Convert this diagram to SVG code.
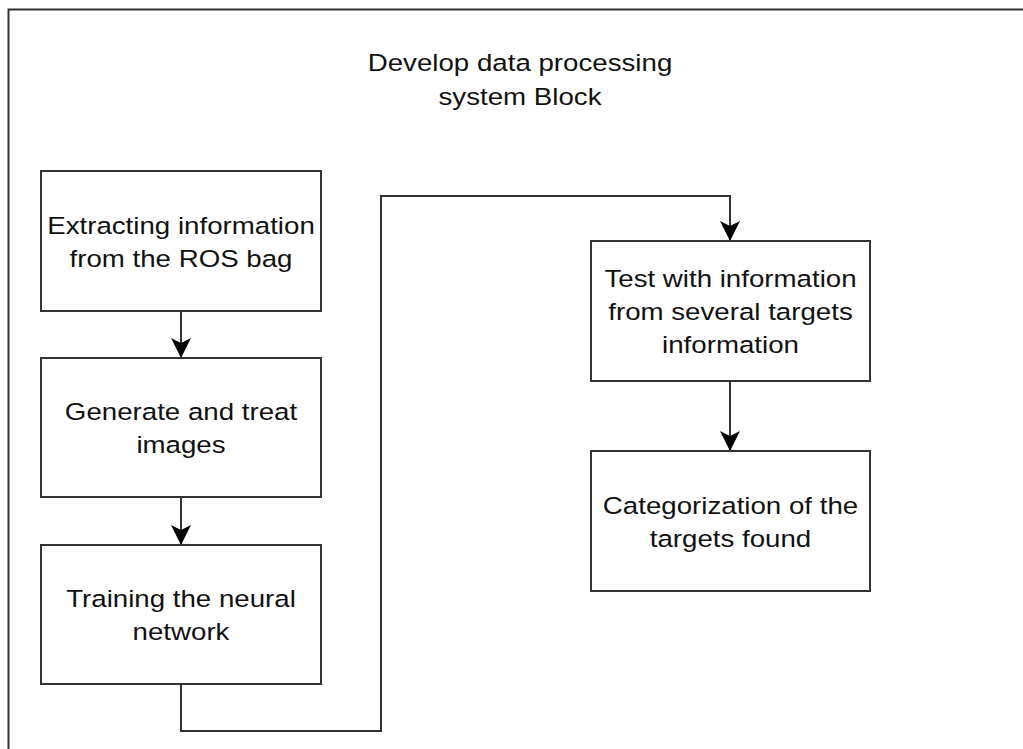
<svg xmlns="http://www.w3.org/2000/svg" width="1023" height="749" viewBox="0 0 1023 749">
  <defs>
    <style>
      .frame { fill: #ffffff; stroke: #333333; stroke-width: 2; }
      .box { fill: #ffffff; stroke: #333333; stroke-width: 2; }
      .edge { fill: none; stroke: #333333; stroke-width: 2; }
      .lbl { font-family: "Liberation Sans", Arial, sans-serif; font-size: 24.5px; fill: #111111; text-anchor: middle; }
    </style>
    <marker id="arrow" viewBox="0 0 20 20" refX="20" refY="10" markerWidth="20" markerHeight="20" markerUnits="userSpaceOnUse" orient="auto">
      <path d="M0,0 L20,10 L0,20 L5,10 Z" fill="#000000"/>
    </marker>
  </defs>

  <rect width="1023" height="749" fill="#ffffff"/>

  <!-- outer container -->
  <g id="container">
    <rect class="frame" x="8.5" y="9.5" width="1030" height="760"/>
    <g transform="translate(520,0) scale(1.13,1)">
      <text class="lbl" x="0" y="71.5">Develop data processing</text>
      <text class="lbl" x="0" y="105">system Block</text>
    </g>
  </g>

  <!-- connectors -->
  <g id="connectors">
    <path class="edge" d="M181,311 L181,358" marker-end="url(#arrow)"/>
    <path class="edge" d="M181,497 L181,545" marker-end="url(#arrow)"/>
    <path class="edge" d="M181,684 L181,731 L381,731 L381,196 L730,196 L730,241" marker-end="url(#arrow)"/>
    <path class="edge" d="M730,381 L730,451" marker-end="url(#arrow)"/>
  </g>

  <g id="extract">
    <rect class="box" x="41" y="171" width="280" height="140"/>
    <g transform="translate(181,0) scale(1.13,1)">
      <text class="lbl" x="0" y="234">Extracting information</text>
      <text class="lbl" x="0" y="267">from the ROS bag</text>
    </g>
  </g>

  <g id="generate">
    <rect class="box" x="41" y="358" width="280" height="139"/>
    <g transform="translate(181,0) scale(1.13,1)">
      <text class="lbl" x="0" y="420.5">Generate and treat</text>
      <text class="lbl" x="0" y="453.5">images</text>
    </g>
  </g>

  <g id="training">
    <rect class="box" x="41" y="545" width="280" height="139"/>
    <g transform="translate(181,0) scale(1.13,1)">
      <text class="lbl" x="0" y="607.5">Training the neural</text>
      <text class="lbl" x="0" y="640.5">network</text>
    </g>
  </g>

  <g id="test">
    <rect class="box" x="591" y="241" width="279" height="140"/>
    <g transform="translate(730.5,0) scale(1.13,1)">
      <text class="lbl" x="0" y="287">Test with information</text>
      <text class="lbl" x="0" y="320">from several targets</text>
      <text class="lbl" x="0" y="353">information</text>
    </g>
  </g>

  <g id="categorize">
    <rect class="box" x="591" y="451" width="279" height="140"/>
    <g transform="translate(730.5,0) scale(1.13,1)">
      <text class="lbl" x="0" y="514">Categorization of the</text>
      <text class="lbl" x="0" y="547">targets found</text>
    </g>
  </g>
</svg>
